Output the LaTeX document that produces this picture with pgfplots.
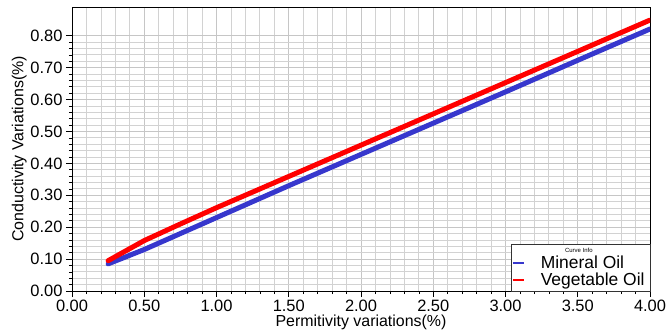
\documentclass[border=0pt]{standalone}
\usepackage{fontspec}
\setmainfont{Liberation Sans}
\usepackage{pgfplots}
\pgfplotsset{compat=1.18}
\definecolor{mblue}{RGB}{55,55,205}
\begin{document}
\begin{tikzpicture}
\path[use as bounding box] (-72bp,-41bp) rectangle (595bp,291bp);
\begin{axis}[
  scale only axis,
  width=578bp, height=284bp,
  xmin=0, xmax=4, ymin=0, ymax=0.89,
  xtick={0,0.5,...,4}, ytick={0,0.1,...,0.81},
  minor x tick num=4, minor y tick num=4,
  xticklabel style={/pgf/number format/.cd,fixed,fixed zerofill,precision=2},
  yticklabel style={/pgf/number format/.cd,fixed,fixed zerofill,precision=2},
  /pgf/number format/assume math mode=true,
  tick label style={font=\fontsize{16.5}{16.5}\selectfont},
  label style={font=\fontsize{16}{16}\selectfont},
  xlabel={Permitivity variations(\%)},
  ylabel={Conductivity Variations(\%)},
  xlabel style={yshift=4bp},
  ylabel style={yshift=-3bp},
  xtick pos=bottom, ytick pos=left,
  tick align=outside,
  major tick length=6bp, minor tick length=3bp,
  every tick/.style={black, line width=0.6pt},
  grid=both,
  major grid style={gray!45, line width=0.8pt},
  minor grid style={gray!35, line width=0.8pt},
  axis line style={black, line width=0.8pt},
  legend style={at={(1,0)}, anchor=south east, draw=black!80, fill=white,
    font=\fontsize{17.5}{17.5}\selectfont, inner xsep=1bp, inner ysep=2bp,
    row sep=-1.5bp, legend cell align=left},
  legend image code/.code={\draw[#1, line width=1.6pt, line cap=butt] (0bp,0bp) -- (11bp,0bp);
    \path[draw=none, fill=none] (0bp,0bp) -- (26bp,0bp);},
]
\addlegendimage{empty legend}
\addlegendentry{\hspace*{-30bp}\makebox[136bp][c]{\fontsize{6}{9}\selectfont Curve Info}}
\addplot[mblue, line width=5bp, line cap=round] coordinates {
(0.25,0.085)(0.5,0.130)(0.75,0.180)(1,0.230)(1.5,0.330)(2,0.428)(2.5,0.526)(3,0.624)(3.5,0.723)(4,0.821)};
\addlegendentry{Mineral Oil}
\addplot[red, line width=5bp, line cap=round] coordinates {
(0.25,0.095)(0.5,0.158)(0.75,0.210)(1,0.261)(1.5,0.359)(2,0.457)(2.5,0.555)(3,0.653)(3.5,0.751)(4,0.849)};
\addlegendentry{Vegetable Oil}
\end{axis}
\end{tikzpicture}
\end{document}
